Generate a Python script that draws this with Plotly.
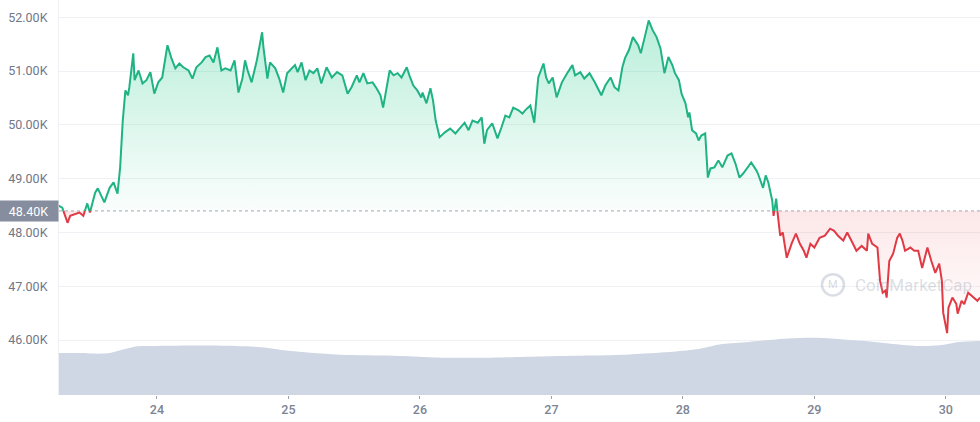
import numpy as np
import plotly.graph_objects as go

# ---------------- data ----------------
BASE_PRICE = 48400
BASE_LABEL = "48.40K"

days = [23.25, 23.28, 23.32, 23.34, 23.38, 23.41, 23.44, 23.47, 23.49, 23.53, 23.55, 23.60, 23.64, 23.67, 23.70, 23.71,
        23.72, 23.74, 23.76, 23.78, 23.79, 23.82, 23.83, 23.86, 23.89, 23.92, 23.95, 23.98, 24.01, 24.04, 24.06, 24.08,
        24.11, 24.14, 24.17, 24.20, 24.24, 24.27, 24.30, 24.34, 24.37, 24.40, 24.43, 24.46, 24.49, 24.52, 24.56, 24.59,
        24.62, 24.65, 24.67, 24.69, 24.72, 24.76, 24.80, 24.81, 24.84, 24.86, 24.90, 24.93, 24.96, 24.99, 25.01, 25.05,
        25.07, 25.10, 25.13, 25.16, 25.19, 25.22, 25.25, 25.29, 25.33, 25.37, 25.41, 25.43, 25.45, 25.48, 25.52, 25.54,
        25.57, 25.60, 25.64, 25.67, 25.70, 25.72, 25.75, 25.77, 25.80, 25.83, 25.86, 25.90, 25.92, 25.95, 25.98, 26.01,
        26.02, 26.05, 26.08, 26.10, 26.12, 26.15, 26.19, 26.23, 26.27, 26.30, 26.34, 26.37, 26.40, 26.44, 26.47, 26.49,
        26.51, 26.55, 26.59, 26.62, 26.65, 26.68, 26.71, 26.75, 26.78, 26.80, 26.84, 26.87, 26.90, 26.94, 26.96, 26.98,
        27.01, 27.04, 27.08, 27.12, 27.16, 27.18, 27.22, 27.25, 27.29, 27.33, 27.38, 27.41, 27.45, 27.48, 27.51, 27.54,
        27.56, 27.59, 27.62, 27.66, 27.68, 27.71, 27.74, 27.77, 27.80, 27.83, 27.84, 27.86, 27.89, 27.92, 27.94, 27.97,
        27.99, 28.02, 28.04, 28.05, 28.07, 28.10, 28.12, 28.14, 28.17, 28.19, 28.21, 28.24, 28.27, 28.30, 28.34, 28.37,
        28.40, 28.43, 28.46, 28.49, 28.52, 28.56, 28.57, 28.61, 28.63, 28.65, 28.68, 28.69, 28.71, 28.72, 28.74, 28.76,
        28.79, 28.83, 28.86, 28.89, 28.92, 28.94, 28.97, 29.00, 29.04, 29.08, 29.12, 29.15, 29.18, 29.22, 29.25, 29.29,
        29.32, 29.36, 29.40, 29.41, 29.44, 29.48, 29.50, 29.52, 29.54, 29.55, 29.57, 29.60, 29.63, 29.65, 29.67, 29.69,
        29.73, 29.76, 29.79, 29.82, 29.86, 29.89, 29.92, 29.95, 29.97, 29.98, 30.01, 30.02, 30.05, 30.08, 30.09, 30.12,
        30.14, 30.17, 30.21, 30.24, 30.26]

prices = [48500, 48460, 48180, 48310, 48350, 48370, 48310, 48540, 48370, 48740, 48820, 48560, 48830, 48930, 48720, 49020,
          49210, 50080, 50640, 50550, 50700, 51330, 50830, 51010, 50770, 50830, 50980, 50580, 50790, 50880, 51200, 51480,
          51240, 51050, 51140, 51070, 51010, 50860, 51070, 51160, 51260, 51290, 51160, 51440, 51010, 51050, 51010, 51200,
          50600, 50860, 51200, 51010, 50790, 51200, 51720, 51440, 50860, 51160, 51050, 50860, 50600, 50960, 51010, 51110,
          50980, 51160, 50830, 51010, 50960, 51050, 50770, 51070, 50880, 50980, 50920, 50770, 50580, 50700, 50920, 50790,
          50960, 50770, 50790, 50680, 50550, 50320, 50730, 51010, 50920, 50960, 50880, 51070, 50920, 50730, 50640, 50510,
          50600, 50400, 50680, 50450, 50080, 49770, 49860, 49930, 49840, 49930, 50040, 49900, 50080, 50040, 50140, 49650,
          49900, 50030, 49750, 49950, 50170, 50140, 50320, 50270, 50210, 50270, 50360, 50040, 50880, 51140, 50880, 50770,
          50880, 50510, 50790, 50960, 51110, 50920, 50980, 50860, 50960, 50790, 50550, 50730, 50880, 50700, 50640, 51070,
          51240, 51390, 51630, 51480, 51330, 51630, 51940, 51760, 51630, 51420, 51240, 50960, 51260, 51110, 50960, 50830,
          50580, 50400, 50140, 50230, 49900, 49840, 49710, 49800, 49840, 49020, 49190, 49210, 49340, 49210, 49430, 49470,
          49280, 49020, 49100, 49210, 49300, 49150, 49100, 48830, 49060, 48930, 48590, 48310, 48630, 48370, 47940, 48000,
          47530, 47810, 47980, 47790, 47660, 47530, 47790, 47720, 47900, 47940, 48070, 48030, 47940, 47850, 48000, 47810,
          47660, 47750, 47660, 47980, 47790, 47720, 47100, 46880, 46920, 46790, 47470, 47610, 47900, 47980, 47850, 47660,
          47720, 47660, 47660, 47340, 47720, 47470, 47250, 47420, 47100, 46510, 46130, 46600, 46790, 46670, 46490, 46730,
          46670, 46880, 46790, 46730, 46790]

vol_days = [23.25, 23.45, 23.55, 23.65, 23.75, 23.85, 24.0, 24.3, 24.6, 24.8, 24.95, 25.1, 25.4, 25.8, 26.1, 26.4,
            26.7, 27.0, 27.3, 27.6, 27.9, 28.1, 28.3, 28.5, 28.8, 29.0, 29.2, 29.4, 29.6, 29.8, 29.95, 30.1, 30.26]
vol_values = [30.9, 30.8, 30.3, 31.0, 33.5, 35.8, 36.0, 36.3, 36.0, 35.0, 33.0, 31.5, 29.5, 28.8, 27.6, 27.3,
              27.8, 28.5, 29.0, 29.8, 31.5, 33.5, 37.5, 39.0, 41.5, 42.0, 41.0, 39.5, 37.5, 36.0, 36.5, 39.0, 39.7]

x_tickvals = [24, 25, 26, 27, 28, 29, 30]
x_ticktext = ["24", "25", "26", "27", "28", "29", "30"]
y_tickvals = [46000, 47000, 48000, 49000, 50000, 51000, 52000]
y_ticktext = ["46.00K", "47.00K", "48.00K", "49.00K", "50.00K", "51.00K", "52.00K"]

# ---------------- styling ----------------
GREEN = "#1fb384"
RED = "#e03a45"
VOL_COLOR = "#cfd6e4"
TICK_COLOR = "#6f7789"
FONT = "Roboto, 'Liberation Sans', sans-serif"

# ---------------- split the line at the baseline ----------------
t = np.array(days, dtype=float)
p = np.array(prices, dtype=float)
xs, ys = [t[0]], [p[0]]
for i in range(1, len(t)):
    a, b = p[i - 1] - BASE_PRICE, p[i] - BASE_PRICE
    if a * b < 0:
        f = a / (a - b)
        xs.append(t[i - 1] + f * (t[i] - t[i - 1]))
        ys.append(BASE_PRICE)
    xs.append(t[i])
    ys.append(p[i])
xs = np.array(xs)
ys = np.array(ys)
green_line = np.where(ys >= BASE_PRICE, ys, np.nan)
red_line = np.where(ys <= BASE_PRICE, ys, np.nan)
upper = np.maximum(ys, BASE_PRICE)
lower = np.minimum(ys, BASE_PRICE)
base = np.full_like(xs, BASE_PRICE)

fig = go.Figure()

# volume (secondary axis)
fig.add_trace(go.Scatter(x=vol_days, y=vol_values, yaxis="y2", mode="lines",
                         line=dict(width=0, shape="spline", smoothing=0.8),
                         fill="tozeroy", fillcolor=VOL_COLOR, hoverinfo="skip", showlegend=False))

# green fill
fig.add_trace(go.Scatter(x=xs, y=base, mode="lines", line=dict(width=0), hoverinfo="skip", showlegend=False))
fig.add_trace(go.Scatter(x=xs, y=upper, mode="lines", line=dict(width=0), fill="tonexty",
                         fillgradient=dict(type="vertical",
                                           colorscale=[[0, "rgba(22,199,132,0.02)"], [1, "rgba(22,199,132,0.30)"]]),
                         hoverinfo="skip", showlegend=False))
# red fill
fig.add_trace(go.Scatter(x=xs, y=base, mode="lines", line=dict(width=0), hoverinfo="skip", showlegend=False))
fig.add_trace(go.Scatter(x=xs, y=lower, mode="lines", line=dict(width=0), fill="tonexty",
                         fillgradient=dict(type="vertical",
                                           colorscale=[[0, "rgba(234,57,67,0.0)"], [1, "rgba(234,57,67,0.12)"]]),
                         hoverinfo="skip", showlegend=False))

# lines
fig.add_trace(go.Scatter(x=xs, y=green_line, mode="lines", line=dict(color=GREEN, width=2),
                         connectgaps=False, showlegend=False))
fig.add_trace(go.Scatter(x=xs, y=red_line, mode="lines", line=dict(color=RED, width=2),
                         connectgaps=False, showlegend=False))

# baseline dotted line
fig.add_shape(type="line", xref="paper", x0=0, x1=1, yref="y", y0=BASE_PRICE, y1=BASE_PRICE,
              line=dict(color="#b4bac6", width=1.2, dash="dot"), layer="below")

# baseline label
fig.add_annotation(xref="paper", x=0, xanchor="right", yref="y", y=BASE_PRICE, yanchor="middle",
                   text=BASE_LABEL, showarrow=False, bgcolor="#858d9e",
                   font=dict(family=FONT, size=12.5, color="#ffffff"),
                   width=55, height=16, borderpad=2, xshift=0)

# watermark
fig.add_shape(type="circle", xref="paper", yref="paper", x0=0.8284, x1=0.8523, y0=0.252, y1=0.306,
              line=dict(color="rgba(150,160,178,0.35)", width=2.5))
fig.add_annotation(xref="paper", yref="paper", x=0.8404, xanchor="center", y=0.279, yanchor="middle",
                   text="M", showarrow=False,
                   font=dict(family=FONT, size=11, color="rgba(150,160,178,0.40)"))
fig.add_annotation(xref="paper", yref="paper", x=0.862, xanchor="left", y=0.279, yanchor="middle",
                   text="CoinMarketCap", showarrow=False,
                   font=dict(family=FONT, size=17, color="rgba(150,160,178,0.35)"))

fig.update_layout(
    width=980, height=422,
    margin=dict(l=59, r=0, t=0, b=27),
    paper_bgcolor="#ffffff", plot_bgcolor="#ffffff",
    font=dict(family=FONT, color=TICK_COLOR),
    showlegend=False,
    hovermode=False,
    xaxis=dict(range=[23.255, 30.26], tickvals=x_tickvals, ticktext=x_ticktext,
               ticks="outside", ticklen=3, tickcolor="#9aa1ae", tickwidth=1,
               showgrid=False, zeroline=False, showline=False, automargin=False,
               tickfont=dict(family=FONT, size=12.5, color="#7c8494", weight=500)),
    yaxis=dict(range=[44980, 52320], tickvals=y_tickvals, ticktext=y_ticktext,
               showgrid=True, gridcolor="#eff1f4", gridwidth=1, zeroline=False,
               showline=True, linecolor="#eef0f3", linewidth=1, automargin=False,
               ticks="", ticklabelstandoff=8,
               tickfont=dict(family=FONT, size=12.5, color=TICK_COLOR)),
    yaxis2=dict(range=[0, 290], overlaying="y", visible=False, showgrid=False),
)

fig.write_html("out.html", config={"displayModeBar": False},
               post_script="document.body.style.margin='0px';")
